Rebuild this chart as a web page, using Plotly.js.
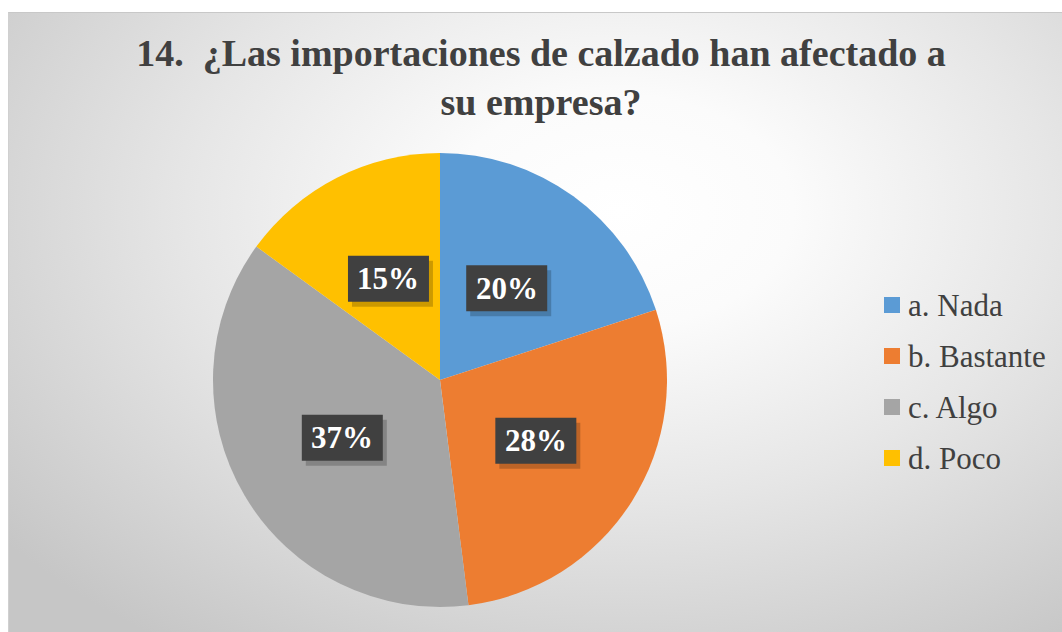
<!DOCTYPE html>
<html>
<head>
<meta charset="utf-8">
<script src="https://cdn.plot.ly/plotly-3.0.1.min.js"></script>
<style>
  html, body { margin: 0; padding: 0; background: #ffffff; }
  #wrap { position: absolute; left: 0; top: 0; width: 1062px; height: 632px; }
  #bg { position: absolute; left: 8px; top: 12px; width: 1054px; height: 620px;
        border-top: 1px solid #c8c8c8; border-left: 1px solid #d0d0d0; box-sizing: border-box;
        background: radial-gradient(ellipse 75% 85% at 58% 32%, #ffffff 0%, #fbfbfb 22%, #e6e6e6 55%, #c6c6c6 100%); }
  #chart { position: absolute; left: 0; top: 0; width: 1062px; height: 632px; }
</style>
</head>
<body>
<div id="wrap"><div id="bg"></div><div id="chart"></div></div>
<script>
const categories = ["a. Nada", "b. Bastante", "c. Algo", "d. Poco"];
const values = [20, 28, 37, 15];
const colors = ["#5b9bd5", "#ed7d31", "#a5a5a5", "#ffc000"];
const titleText = "14.  ¿Las importaciones de calzado han afectado a<br>su empresa?";

const FONT = "'Liberation Serif', 'Times New Roman', Times, serif";
const W = 1062, H = 632;
const cx = 440, cy = 380, R = 227;
const domX = [(cx - R) / W, (cx + R) / W];
const domY = [(H - cy - R) / H, (H - cy + R) / H];

const total = values.reduce((a, b) => a + b, 0);
const annotations = [];
const shapes = [];
const boxW = 81, boxH = 46;
let cum = 0;
values.forEach((v, i) => {
  const mid = (cum + v / 2) / total * 2 * Math.PI;
  cum += v;
  const r = R * 0.5;
  const px = cx + r * Math.sin(mid);
  const py = cy - r * Math.cos(mid);
  const pct = Math.round(v / total * 100) + "%";
  shapes.push({
    type: "rect", xref: "paper", yref: "paper",
    x0: (px - boxW / 2 + 4) / W, x1: (px + boxW / 2 + 4) / W,
    y0: (H - py - boxH / 2 - 5) / H, y1: (H - py + boxH / 2 - 5) / H,
    fillcolor: "rgba(0,0,0,0.2)", line: { width: 0 }
  });
  shapes.push({
    type: "rect", xref: "paper", yref: "paper",
    x0: (px - boxW / 2) / W, x1: (px + boxW / 2) / W,
    y0: (H - py - boxH / 2) / H, y1: (H - py + boxH / 2) / H,
    fillcolor: "#404040", line: { width: 0 }
  });
  annotations.push({
    xref: "paper", yref: "paper", x: px / W, y: (H - py) / H,
    text: "<b>" + pct + "</b>", showarrow: false, xanchor: "center", yanchor: "middle",
    font: { family: FONT, size: 31, color: "#ffffff" }
  });
});

// legend (manual, to match the wide vertical spacing)
const legX = 884, legY0 = 305, legGap = 51, sq = 16;
categories.forEach((c, i) => {
  const y = legY0 + i * legGap;
  shapes.push({
    type: "rect", xref: "paper", yref: "paper",
    x0: legX / W, x1: (legX + sq) / W,
    y0: (H - y - sq / 2) / H, y1: (H - y + sq / 2) / H,
    fillcolor: colors[i], line: { width: 0 }
  });
  annotations.push({
    xref: "paper", yref: "paper", x: (legX + sq + 6) / W, y: (H - y) / H,
    text: c, showarrow: false, xanchor: "left", yanchor: "middle",
    font: { family: FONT, size: 31, color: "#404040" }
  });
});

const data = [{
  type: "pie",
  labels: categories,
  values: values,
  sort: false,
  direction: "clockwise",
  rotation: 0,
  marker: { colors: colors, line: { color: "#ffffff", width: 0 } },
  textinfo: "none",
  hoverinfo: "label+percent",
  domain: { x: domX, y: domY },
  showlegend: false
}];

const layout = {
  width: W, height: H,
  margin: { l: 0, r: 0, t: 0, b: 0 },
  paper_bgcolor: "rgba(0,0,0,0)",
  plot_bgcolor: "rgba(0,0,0,0)",
  font: { family: FONT },
  showlegend: false,
  title: {
    text: "<b>" + titleText + "</b>",
    x: 541 / W, xanchor: "center",
    y: 1 - 66 / H, yanchor: "top",
    font: { family: FONT, size: 38, color: "#404040" }
  },
  annotations: annotations,
  shapes: shapes
};

Plotly.newPlot("chart", data, layout, { staticPlot: true, displayModeBar: false });
</script>
</body>
</html>
